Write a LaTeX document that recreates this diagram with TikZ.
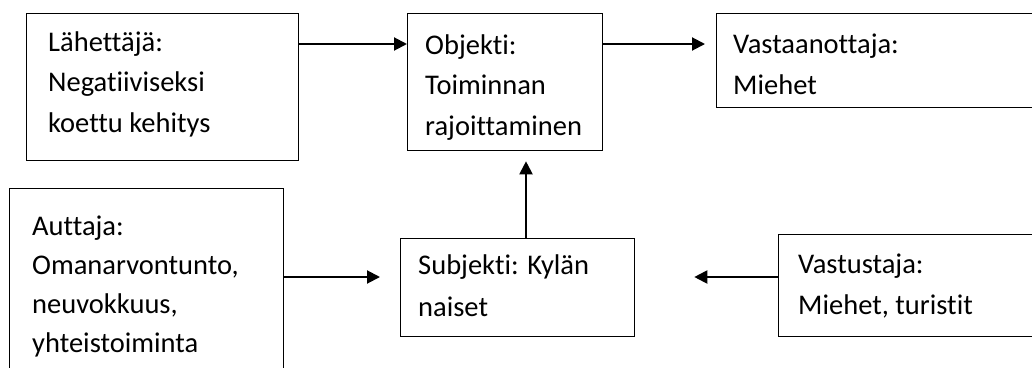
\documentclass[tikz,border=0pt]{standalone}
\usepackage{fontspec}
\setmainfont{Carlito}[Ligatures=NoCommon]
\usetikzlibrary{calc}
\usetikzlibrary{arrows.meta}

\begin{document}
\begin{tikzpicture}[x=1pt,y=-1pt,
    box/.style={draw,line width=1.3pt,anchor=north west,inner sep=0pt},
    txt/.style={anchor=base west,align=left,inner sep=0pt,font=\fontsize{28.5}{40.5}\selectfont},
    arr/.style={line width=2pt,-{Triangle[length=13pt,width=13pt]}}]
                    \clip (0,0) rectangle (1032,367);
                    \node[box,minimum width=272pt,minimum height=147pt] (lah) at (26,13) {};
                    \node[box,minimum width=195pt,minimum height=137pt] (obj) at (407,13) {};
                    \node[box,minimum width=340pt,minimum height=94pt] (vas) at (716,13) {};
                    \node[box,minimum width=274pt,minimum height=200pt] (aut) at (9,188) {};
                    \node[box,minimum width=234pt,minimum height=98pt] (sub) at (400,238) {};
                    \node[box,minimum width=280pt,minimum height=102pt] (vst) at (778,234) {};
                    \node[txt] (lahtxt) at (48,132) {Lähettäjä:\\Negatiiviseksi\\koettu kehitys};
                    \node[txt] (objtxt) at (425,135) {Objekti:\\Toiminnan\\rajoittaminen};
                    \node[txt] (vastxt) at (733,94) {Vastaanottaja:\\Miehet};
                    \node[txt,font=\fontsize{28.5}{39}\selectfont] (auttxt) at (32,352) {Auttaja:\\Omanarvontunto,\\neuvokkuus,\\yhteistoiminta};
                    \node[txt,font=\fontsize{28.5}{42}\selectfont] (subtxt) at (418,316) {Subjekti: Kylän\\naiset};
                    \node[txt,font=\fontsize{28.5}{41}\selectfont] (vsttxt) at (798,314) {Vastustaja:\\Miehet, turistit};
                    \draw[arr] ($(lah.north east)+(0,31)$) -- ($(obj.north west)+(0,31)$);
                    \draw[arr,shorten >=11pt] ($(obj.north east)+(0,31)$) -- ($(vas.north west)+(0,31)$);
                    \draw[arr,shorten >=20pt] ($(aut.north east)+(0,89)$) -- ($(sub.north west)+(0,39)$);
                    \draw[arr,shorten >=10pt] ($(sub.north west)+(126,0)$) -- ($(obj.south west)+(119,0)$);
                    \draw[arr,shorten >=59pt] ($(vst.north west)+(0,43)$) -- ($(sub.north east)+(0,39)$);
               \end{tikzpicture}
\end{document}
